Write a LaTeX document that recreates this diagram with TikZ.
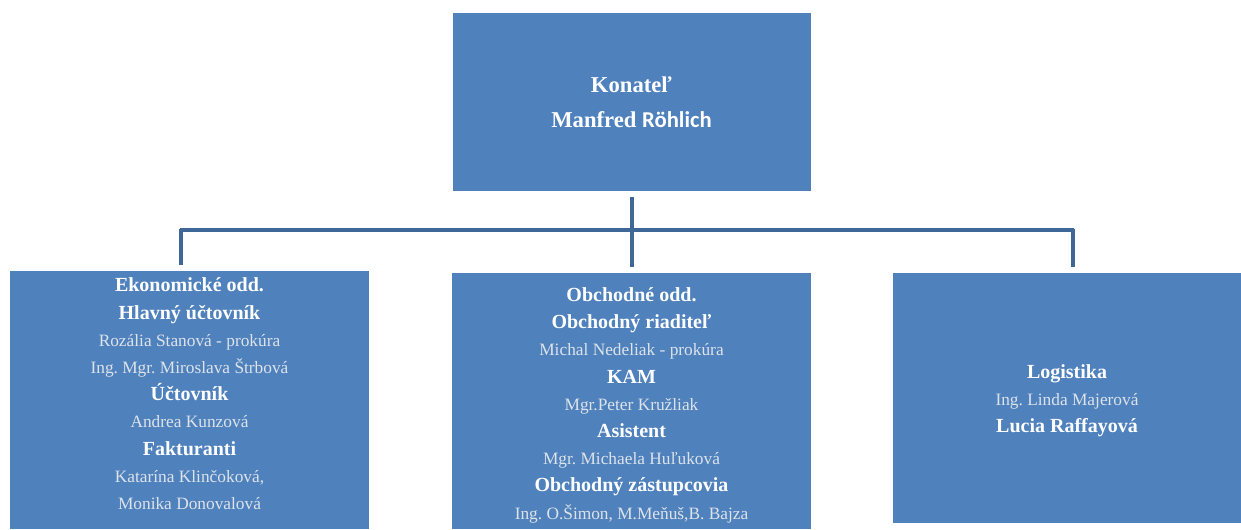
\documentclass[tikz,border=0pt]{standalone}
\usepackage{fontspec}
\setmainfont{Liberation Serif}
\newfontfamily\calibrifont{Carlito}
\usetikzlibrary{positioning}
\definecolor{boxblue}{HTML}{4F81BD}
\definecolor{linkblue}{HTML}{3F6797}
\definecolor{namegray}{HTML}{DDE3EA}
\newcommand{\hd}[1]{{\fontsize{15}{20.25}\selectfont\bfseries #1}}
\newcommand{\who}[1]{{\color{namegray}#1}}
\frenchspacing

\begin{document}
\begin{tikzpicture}[x=0.75pt, y=-0.75pt,
    chief/.style={rectangle, draw=none, fill=boxblue, text=white, align=center,
        minimum width=268.5pt, minimum height=133.5pt,
        font=\fontsize{17}{26.25}\selectfont\bfseries},
    dept/.style={rectangle, draw=none, fill=boxblue, inner sep=0pt},
    staff/.style={text=white, align=center, inner sep=0pt,
        font=\fontsize{13}{20.4}\selectfont},
    link/.style={draw=linkblue, line width=3pt}
]
\useasboundingbox (0,0) rectangle (1241,529);

\node (Boss) [chief] at (631.5,102) {Konateľ\\Manfred {\calibrifont Röhlich}};

% departments
\node (Econ) [dept, minimum width=269.25pt, minimum height=193.5pt] at (189.5,400) {};
\node (Sales) [dept, minimum width=269.25pt, minimum height=192pt] at (631.5,401) {};
\node (Logi) [dept, minimum width=261pt, minimum height=187.5pt] at (1067,398) {};

\node (EconText) [staff] at ([yshift=4.6pt]Econ.center)
    {\hd{Ekonomické odd.}\\
     \hd{Hlavný účtovník}\\
     \who{Rozália Stanová - prokúra}\\
     \who{Ing. Mgr. Miroslava Štrbová}\\
     \hd{Účtovník}\\
     \who{Andrea Kunzová}\\
     \hd{Fakturanti}\\
     \who{Katarína Klinčoková,}\\
     \who{Monika Donovalová}};

\node (SalesText) [staff] at ([yshift=-3.2pt]Sales.center)
    {\hd{Obchodné odd.}\\
     \hd{Obchodný riaditeľ}\\
     \who{Michal Nedeliak - prokúra}\\
     \hd{KAM}\\
     \who{Mgr.Peter Kružliak}\\
     \hd{Asistent}\\
     \who{Mgr. Michaela Huľuková}\\
     \hd{Obchodný zástupcovia}\\
     \who{Ing. O.Šimon, M.Meňuš,B. Bajza}};

\node (LogiText) [staff] at ([yshift=-2.2pt]Logi.center)
    {\hd{Logistika}\\
     \who{Ing. Linda Majerová}\\
     \hd{Lucia Raffayová}};

% connectors
\coordinate (Fork) at (631.5,230);
\coordinate (ForkL) at (181,230);
\coordinate (ForkR) at (1073,230);
\path (Econ.north -| ForkL) coordinate (EconIn);
\path (Sales.north -| Fork) coordinate (SalesIn);
\path (Logi.north -| ForkR) coordinate (LogiIn);

\draw[link] ([yshift=-4.5pt]Boss.south) -- (Fork);
\draw[link] ([xshift=-1.1pt]ForkL) -- (Fork) -- ([xshift=1.1pt]ForkR);
\draw[link] ([yshift=1.1pt]ForkL) -- ([yshift=4.5pt]EconIn);
\draw[link] (Fork) -- ([yshift=4.5pt]SalesIn);
\draw[link] ([yshift=1.1pt]ForkR) -- ([yshift=4.5pt]LogiIn);
\end{tikzpicture}
\end{document}
